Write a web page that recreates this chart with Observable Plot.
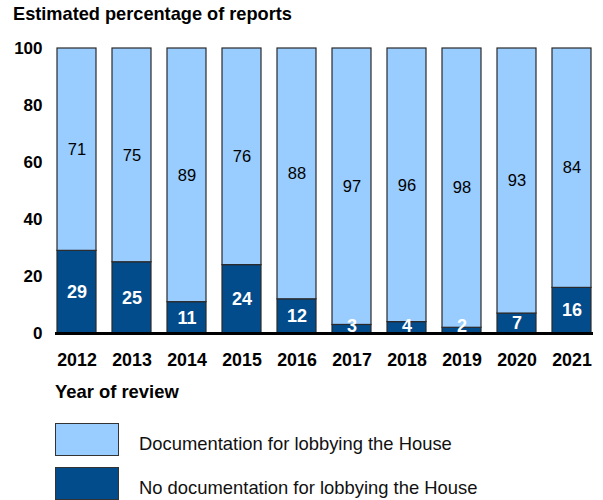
<!DOCTYPE html>
<html>
<head>
<meta charset="utf-8">
<script src="https://cdn.jsdelivr.net/npm/d3@7"></script>
<script src="https://cdn.jsdelivr.net/npm/@observablehq/plot@0.6"></script>
<style>
  html, body { margin: 0; padding: 0; background: #fff; }
  body { width: 603px; height: 500px; position: relative; font-family: "Liberation Sans", Arial, sans-serif; color: #000; overflow: hidden; }
  #title { position: absolute; left: 13px; top: 4px; font-weight: bold; font-size: 18.2px; line-height: 20px; white-space: nowrap; }
  #chart { position: absolute; left: 0; top: 30px; }
  #xlabel { position: absolute; left: 55px; top: 381.5px; font-weight: bold; font-size: 18.4px; line-height: 20px; white-space: nowrap; }
  .sw { position: absolute; left: 55px; width: 62px; height: 31px; border: 1.5px solid #333; }
  .lt { position: absolute; left: 139px; font-size: 18.4px; line-height: 20px; white-space: nowrap; color: #111; }
</style>
</head>
<body>
<div id="title">Estimated percentage of reports</div>
<div id="chart"></div>
<div id="xlabel">Year of review</div>
<div id="legend"></div>
<script>
const years = ["2012","2013","2014","2015","2016","2017","2018","2019","2020","2021"];
const documented = [71, 75, 89, 76, 88, 97, 96, 98, 93, 84];
const notDocumented = [29, 25, 11, 24, 12, 3, 4, 2, 7, 16];
const seriesNames = ["No documentation for lobbying the House", "Documentation for lobbying the House"];
const seriesColors = ["#034c8c", "#99ccff"];
const yTicks = [0, 20, 40, 60, 80, 100];

const data = [];
years.forEach((yr, i) => {
  data.push({year: yr, series: seriesNames[0], value: notDocumented[i], mid: Math.max(notDocumented[i] / 2, 2.6)});
  data.push({year: yr, series: seriesNames[1], value: documented[i], mid: notDocumented[i] + documented[i] / 2});
});
const darkData = data.filter(d => d.series === seriesNames[0]);
const lightData = data.filter(d => d.series === seriesNames[1]);

const plot = Plot.plot({
  width: 603,
  height: 350,
  marginTop: 18,
  marginBottom: 47,
  marginLeft: 55,
  marginRight: 10,
  style: {fontFamily: "'Liberation Sans', Arial, sans-serif", fontSize: "16px", color: "#000", background: "#fff"},
  x: {domain: years, paddingInner: 0.29, paddingOuter: 0, label: null, tickSize: 0, tickPadding: 20},
  y: {domain: [0, 100], ticks: yTicks, label: null, tickSize: 0, tickPadding: 13},
  color: {domain: seriesNames, range: seriesColors},
  marks: [
    Plot.barY(data, {x: "year", y: "value", z: "series", fill: "series", stroke: "#2a2a2a", strokeWidth: 1.2, order: seriesNames}),
    Plot.ruleY([0], {stroke: "#000", strokeWidth: 3}),
    Plot.text(darkData, {x: "year", y: "mid", text: d => String(d.value), fill: "#fff", fontWeight: "bold", fontSize: 18}),
    Plot.text(lightData, {x: "year", y: "mid", text: d => String(d.value), fill: "#000", fontSize: 16.5})
  ]
});
plot.querySelectorAll("g[aria-label='x-axis tick label']").forEach(g => {
  g.setAttribute("font-weight", "bold");
  g.setAttribute("font-size", "17.8");
});
plot.querySelectorAll("g[aria-label='y-axis tick label']").forEach(g => {
  g.setAttribute("font-weight", "bold");
  g.setAttribute("font-size", "17");
});
document.getElementById("chart").appendChild(plot);

const legend = document.getElementById("legend");
const legendOrder = [1, 0];
legendOrder.forEach((si, k) => {
  const top = 423 + k * 44;
  const sw = document.createElement("div");
  sw.className = "sw";
  sw.style.top = top + "px";
  sw.style.background = seriesColors[si];
  legend.appendChild(sw);
  const lt = document.createElement("div");
  lt.className = "lt";
  lt.style.top = (top + 11) + "px";
  lt.textContent = seriesNames[si];
  legend.appendChild(lt);
});
</script>
</body>
</html>
